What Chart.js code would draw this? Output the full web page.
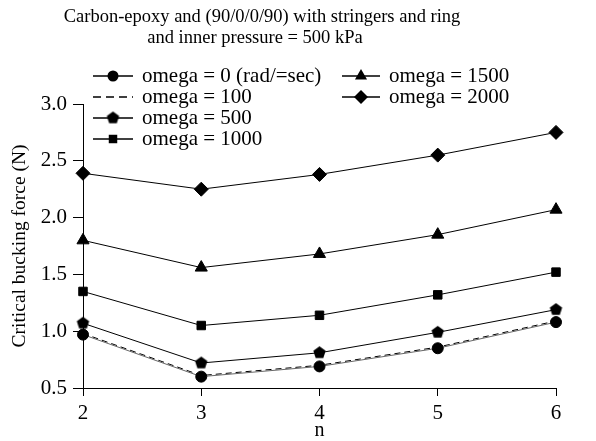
<!DOCTYPE html>
<html>
<head>
<meta charset="utf-8">
<script src="https://cdn.jsdelivr.net/npm/chart.js"></script>
<style>
  html, body { margin: 0; padding: 0; background: #fff; }
</style>
</head>
<body>
<canvas id="myChart" width="596" height="441"></canvas>
<script>
// data
var nValues = ["2", "3", "4", "5", "6"];
var omega0 = [0.97, 0.60, 0.69, 0.85, 1.08];
var omega100 = [0.98, 0.61, 0.70, 0.86, 1.09];
var omega500 = [1.07, 0.72, 0.81, 0.99, 1.19];
var omega1000 = [1.35, 1.05, 1.14, 1.32, 1.52];
var omega1500 = [1.80, 1.56, 1.68, 1.85, 2.07];
var omega2000 = [2.39, 2.25, 2.38, 2.55, 2.75];
var yTicks = [0.5, 1.0, 1.5, 2.0, 2.5, 3.0];
var seriesNames = ["omega = 0 (rad/=sec)", "omega = 100", "omega = 500", "omega = 1000", "omega = 1500", "omega = 2000"];
var titleLines = ["Carbon-epoxy and (90/0/0/90) with stringers and ring", "and inner pressure = 500 kPa"];

var serif = "'Liberation Serif', 'Times New Roman', serif";

// Chart.js has no pentagon marker, so make one
function pentagonImage(r) {
  var cv = document.createElement("canvas");
  cv.width = 2 * r + 2;
  cv.height = 2 * r + 2;
  var c = cv.getContext("2d");
  c.fillStyle = "#000";
  c.beginPath();
  for (var i = 0; i < 5; i++) {
    var a = -Math.PI / 2 + i * 2 * Math.PI / 5;
    var px = r + 1 + r * Math.cos(a), py = r + 1 + r * Math.sin(a);
    if (i === 0) c.moveTo(px, py); else c.lineTo(px, py);
  }
  c.closePath();
  c.fill();
  return cv;
}
var pentagon = pentagonImage(6.5);

var styles = ["circle", false, pentagon, "rect", "triangle", "rectRot"];
var radii = [5.5, 0, 6.5, 6, 7, 7];
var lineColors = ["#666", "#000", "#000", "#000", "#000", "#000"];
var dashes = [[], [6, 4], [], [], [], []];
var seriesData = [omega0, omega100, omega500, omega1000, omega1500, omega2000];

var datasets = seriesData.map(function(d, i) {
  return {
    label: seriesNames[i],
    data: d,
    borderColor: lineColors[i],
    borderWidth: 1,
    borderDash: dashes[i],
    pointStyle: styles[i],
    pointRadius: radii[i],
    pointBackgroundColor: "#000",
    pointBorderColor: "#000",
    pointBorderWidth: 1,
    tension: 0,
    clip: false
  };
});

function drawMarker(c, style, x, y, r) {
  if (!style) return;
  if (style === pentagon) {
    c.drawImage(pentagon, x - pentagon.width / 2, y - pentagon.height / 2);
    return;
  }
  c.beginPath();
  if (style === "circle") {
    c.arc(x, y, r, 0, Math.PI * 2);
  } else if (style === "rect") {
    var s = Math.SQRT1_2 * r;
    c.rect(x - s, y - s, 2 * s, 2 * s);
  } else if (style === "triangle") {
    c.moveTo(x, y - r);
    c.lineTo(x + r * Math.cos(Math.PI / 6), y + r / 2);
    c.lineTo(x - r * Math.cos(Math.PI / 6), y + r / 2);
  } else if (style === "rectRot") {
    c.moveTo(x - r, y);
    c.lineTo(x, y - r);
    c.lineTo(x + r, y);
    c.lineTo(x, y + r);
  }
  c.closePath();
  c.fill();
}

// title and the in-plot legend
var overlay = {
  id: "overlay",
  afterDraw: function(chart) {
    var c = chart.ctx;
    c.save();
    c.fillStyle = "#000";
    c.strokeStyle = "#000";
    c.textBaseline = "middle";
    c.textAlign = "center";
    c.font = "18.5px " + serif;
    c.fillText(titleLines[0], 262, 17);
    c.fillText(titleLines[1], 255, 38);

    var slots = [
      { x0: 93, x1: 133, y: 76 }, { x0: 93, x1: 133, y: 97 },
      { x0: 93, x1: 133, y: 118 }, { x0: 93, x1: 133, y: 139 },
      { x0: 342, x1: 380, y: 76 }, { x0: 342, x1: 380, y: 97 }
    ];
    c.font = "21px " + serif;
    c.textAlign = "left";
    slots.forEach(function(s, i) {
      c.lineWidth = 1.5;
      c.setLineDash(dashes[i].length ? [8, 5] : []);
      c.beginPath();
      c.moveTo(s.x0, s.y);
      c.lineTo(s.x1, s.y);
      c.stroke();
      c.setLineDash([]);
      drawMarker(c, styles[i], (s.x0 + s.x1) / 2, s.y, radii[i]);
      c.fillText(seriesNames[i], s.x1 + 9, s.y);
    });
    c.restore();
  }
};

var ctx = document.getElementById("myChart").getContext("2d");
var myChart = new Chart(ctx, {
  type: "line",
  data: { labels: nValues, datasets: datasets },
  plugins: [overlay],
  options: {
    responsive: false,
    animation: false,
    layout: { padding: { top: 104, right: 40, left: 0, bottom: 0 } },
    plugins: {
      legend: { display: false },
      title: { display: false },
      tooltip: { enabled: false }
    },
    scales: {
      x: {
        type: "category",
        offset: false,
        grid: { display: true, drawOnChartArea: false, drawTicks: true, tickLength: 8, color: "#000" },
        border: { display: true, color: "#000", width: 1 },
        ticks: { color: "#000", font: { family: serif, size: 21 }, padding: 5, maxRotation: 0 },
        title: { display: true, text: "n", color: "#000", font: { family: serif, size: 20, lineHeight: 1.0 }, padding: { top: 0, bottom: 0 } },
        afterFit: function(s) { s.height = 441 - 388; }
      },
      y: {
        min: 0.5,
        max: 3.0,
        afterBuildTicks: function(s) { s.ticks = yTicks.map(function(v) { return { value: v }; }); },
        grid: { display: true, drawOnChartArea: false, drawTicks: true, tickLength: 10, color: "#000" },
        border: { display: true, color: "#000", width: 1 },
        ticks: {
          color: "#000",
          font: { family: serif, size: 21 },
          padding: 6,
          callback: function(v) { return Number(v).toFixed(1); }
        },
        title: { display: true, text: "Critical bucking force (N)", color: "#000", font: { family: serif, size: 19.5 }, padding: { top: 8, bottom: 0 } },
        afterFit: function(s) { s.width = 83; }
      }
    }
  }
});
</script>
</body>
</html>
